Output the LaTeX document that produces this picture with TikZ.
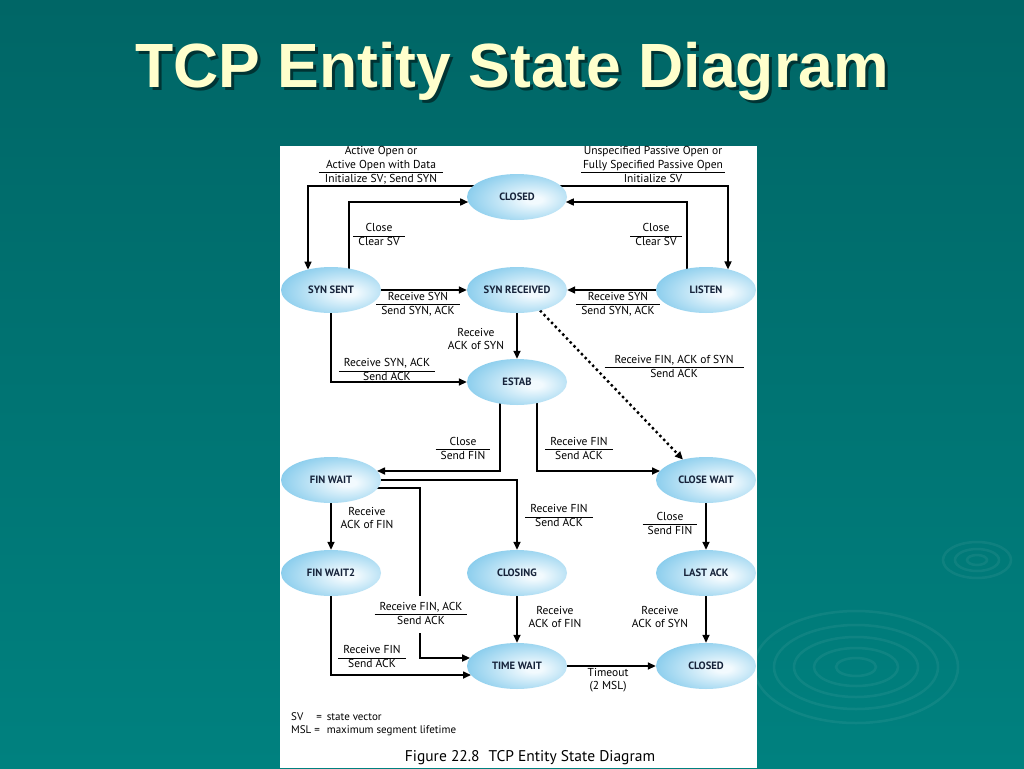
\documentclass[tikz,border=0pt]{standalone}
\usepackage{fontspec}
\setmainfont{PT Sans}
\newfontfamily\titlefont{Liberation Sans}
\usetikzlibrary{shapes.geometric,arrows.meta}
\pgfdeclarelayer{bg}
\pgfsetlayers{bg,main}
\definecolor{tealtop}{HTML}{006666}
\definecolor{tealbot}{HTML}{00817F}
\definecolor{ellout}{HTML}{1E9FDC}
\definecolor{ellin}{HTML}{F2FAFE}
\definecolor{nodetxt}{HTML}{16233A}
\definecolor{titlecol}{HTML}{FFFFCC}
\pgfdeclareradialshading{ellshade}{\pgfpoint{9bp}{-3bp}}{color(0bp)=(ellin); color(4bp)=(ellin); color(30bp)=(ellout!50!white); color(47bp)=(ellout); color(75bp)=(ellout!90!black)}
\newcommand{\lblfrac}[2]{\begin{tabular}{@{\hspace{5pt}}c@{\hspace{5pt}}}#1\\\hline #2\end{tabular}}
\newcommand{\lbltwo}[2]{\begin{tabular}{@{}c@{}}#1\\#2\end{tabular}}
\setlength{\arrayrulewidth}{0.7pt}
\tikzset{
  st/.style={ellipse, minimum width=100pt, minimum height=46pt, inner sep=0pt,
    shading=ellshade, text=nodetxt, font=\fontsize{10.6}{12}\selectfont\bfseries},
  arr/.style={line width=1.6pt, -{Triangle[length=8pt,width=7pt]}},
  dotarr/.style={line width=2.4pt, dash pattern=on 2.4pt off 3pt, -{Triangle[length=8pt,width=7pt]}},
  lbl/.style={font=\fontsize{11.5}{13.5}\selectfont, inner sep=0pt, text=black},
  ripple/.style={draw=white, draw opacity=0.06, line width=2.5pt},
}
\begin{document}
\begin{tikzpicture}[x=1pt,y=-1pt]
\useasboundingbox (0,0) rectangle (1024,768);

% title
\node[anchor=base, text=black, opacity=0.5, font=\titlefont\bfseries\fontsize{62.5}{70}\selectfont] (titleshadow) at (515,90) {TCP Entity State Diagram};
\node[anchor=base, text=titlecol, font=\titlefont\bfseries\fontsize{62.5}{70}\selectfont] (title) at (512,87) {TCP Entity State Diagram};

% states
\node[st] (closedT) at (517,197) {CLOSED};
\node[st] (synsent) at (331,290) {SYN SENT};
\node[st] (synrec) at (517,290) {SYN RECEIVED};
\node[st] (listen) at (706,290) {LISTEN};
\node[st] (estab) at (517,382) {ESTAB};
\node[st] (finwait) at (331,480) {FIN WAIT};
\node[st] (closewait) at (706,480) {CLOSE WAIT};
\node[st] (finwait2) at (331,573) {FIN WAIT2};
\node[st] (closing) at (517,573) {CLOSING};
\node[st] (lastack) at (706,573) {LAST ACK};
\node[st] (timewait) at (517,666) {TIME WAIT};
\node[st] (closedB) at (706,666) {CLOSED};

% labels
\node[lbl] (l1) at (381,166) {\begin{tabular}{@{\hspace{6pt}}c@{\hspace{6pt}}}Active Open or\\Active Open with Data\\\hline Initialize SV; Send SYN\end{tabular}};
\node[lbl] (l2) at (653,166) {\begin{tabular}{@{\hspace{2pt}}c@{\hspace{2pt}}}Unspecified Passive Open or\\Fully Specified Passive Open\\\hline Initialize SV\end{tabular}};
\node[lbl] (l3) at (379,236) {\lblfrac{Close}{Clear SV}};
\node[lbl] (l4) at (656,236) {\lblfrac{Close}{Clear SV}};
\node[lbl] (l5) at (418,304.5) {\lblfrac{Receive SYN}{Send SYN, ACK}};
\node[lbl] (l6) at (618,304.5) {\lblfrac{Receive SYN}{Send SYN, ACK}};
\node[lbl] (l7) at (476,340.5) {\lbltwo{Receive}{ACK of SYN}};
\node[lbl] (l8) at (387,371) {\lblfrac{Receive SYN, ACK}{Send ACK}};
\node[lbl] (l9) at (674,367.5) {\begin{tabular}{@{\hspace{10pt}}c@{\hspace{10pt}}}Receive FIN, ACK of SYN\\\hline Send ACK\end{tabular}};
\node[lbl] (l10) at (463,449.5) {\lblfrac{Close}{Send FIN}};
\node[lbl] (l11) at (579,449.5) {\lblfrac{Receive FIN}{Send ACK}};
\node[lbl] (l12) at (367,519.5) {\lbltwo{Receive}{ACK of FIN}};
\node[lbl] (l13) at (559,517) {\lblfrac{Receive FIN}{Send ACK}};
\node[lbl] (l14) at (670,524.5) {\lblfrac{Close}{Send FIN}};
\node[lbl, fill=white, inner ysep=5pt] (l15) at (421,614.5) {\lblfrac{Receive FIN, ACK}{Send ACK}};
\node[lbl] (l16) at (555,618.5) {\lbltwo{Receive}{ACK of FIN}};
\node[lbl] (l17) at (660,618.5) {\lbltwo{Receive}{ACK of SYN}};
\node[lbl] (l18) at (372,658) {\lblfrac{Receive FIN}{Send ACK}};
\node[lbl] (l19) at (608,680.5) {\lbltwo{Timeout}{(2 MSL)}};

% legend and caption
\node[lbl, anchor=north west, font=\fontsize{11}{13}\selectfont] (legend) at (291,711)
  {\begin{tabular}{@{}l@{\hspace{5pt}}l@{}}SV\hspace{13pt}= & state vector\\MSL = & maximum segment lifetime\end{tabular}};
\node[lbl, font=\fontsize{15.5}{18}\selectfont] (caption) at (530,758) {Figure 22.8\hspace{9pt}TCP Entity State Diagram};

\begin{pgfonlayer}{bg}
  \shade[top color=tealtop, bottom color=tealbot] (0,0) rectangle (1024,768);
  % ripples
  \foreach \rx/\ry in {20/9, 42/19, 62/30, 82/42, 102/56} {
    \draw[ripple] (856,667) ellipse[x radius=\rx, y radius=\ry];
  }
  \foreach \rx/\ry in {10/5, 22/11, 34/18} {
    \draw[ripple] (977,560) ellipse[x radius=\rx, y radius=\ry];
  }
  \fill[white] (280,146) rectangle (757,768);

  % connectors
  \draw[arr] ([yshift=11pt]closedT.center) -| ([xshift=-23pt,yshift=20.4pt]synsent.center);
  \draw[arr] ([xshift=18pt]synsent.center) |- ([xshift=-48.8pt,yshift=-5pt]closedT.center);
  \draw[arr] ([yshift=11pt]closedT.center) -| ([xshift=22pt,yshift=20.6pt]listen.center);
  \draw[arr] ([xshift=-19pt]listen.center) |- ([xshift=48.8pt,yshift=-5pt]closedT.center);
  \draw[arr] (synsent.center) -- (synrec.west);
  \draw[arr] (listen.center) -- (synrec.east);
  \draw[arr] (synrec.center) -- (estab.north);
  \draw[arr] (synsent.center) |- (estab.west);
  \draw[dotarr] ([xshift=23pt,yshift=-20.4pt]synrec.center) -- ([xshift=-23pt,yshift=20.4pt]closewait.center);
  \draw[arr] ([xshift=-17pt]estab.center) |- ([xshift=46pt,yshift=9pt]finwait.center);
  \draw[arr] ([xshift=20pt]estab.center) |- ([xshift=-46pt,yshift=9pt]closewait.center);
  \draw[arr] (finwait.center) -| (closing.north);
  \draw[arr] ([yshift=-8pt]finwait.center) -| ([xshift=-97pt,yshift=8pt]timewait.center) -- ([xshift=-46.9pt,yshift=8pt]timewait.center);
  \draw[arr] (finwait.center) -- (finwait2.north);
  \draw[arr] (finwait2.center) |- ([xshift=-46pt,yshift=-9pt]timewait.center);
  \draw[arr] (closing.center) -- (timewait.north);
  \draw[arr] (closewait.center) -- (lastack.north);
  \draw[arr] (lastack.center) -- (closedB.north);
  \draw[arr] (timewait.center) -- (closedB.west);
\end{pgfonlayer}
\end{tikzpicture}
\end{document}
